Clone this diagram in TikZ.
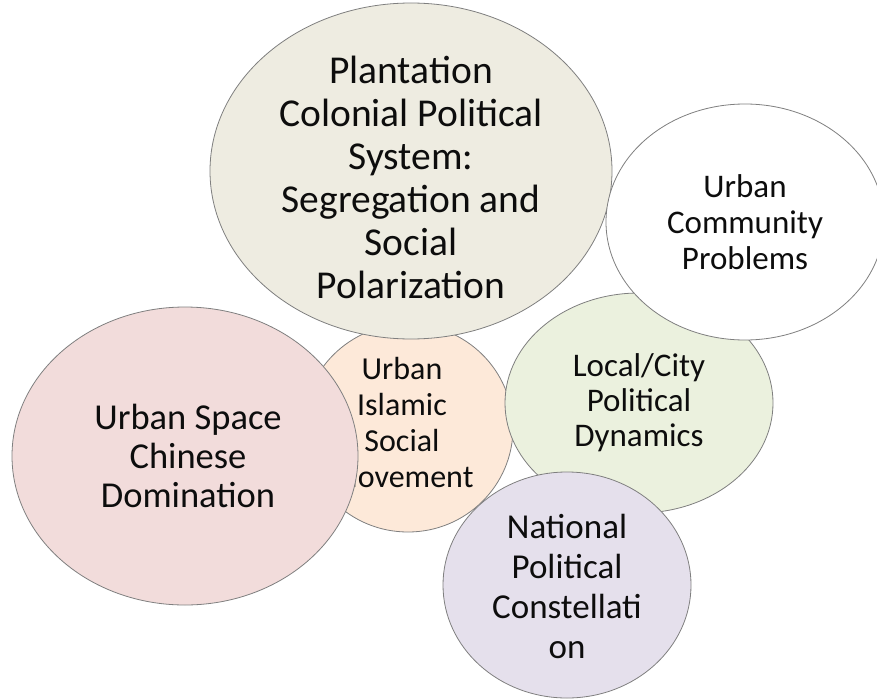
\documentclass[tikz,border=0pt]{standalone}
\usepackage{fontspec}
\setmainfont{Carlito}
\usetikzlibrary{shapes.geometric}
\definecolor{plantgray}{HTML}{EEECE1}
\definecolor{chinapink}{HTML}{F2DCDB}
\definecolor{islampeach}{HTML}{FDE9D9}
\definecolor{localgreen}{HTML}{EBF1DE}
\definecolor{nationlilac}{HTML}{E5E0EC}
\definecolor{rimgray}{HTML}{7F7F7F}

\begin{document}
\begin{tikzpicture}
[x=1pt,y=-1pt,%
  bubbledecorate/.style={shape=ellipse,draw=rimgray,line width=0.8pt,inner sep=0pt},%
  textdecorate/.style={align=center,inner sep=0pt,text=black!95}]
\useasboundingbox (0,0) rectangle (877,698);
%% bubbles, back to front
\foreach \nodename/\x/\y/\w/\h/\col/\fs/\lead/\dx/\dy/\txt in {
  islamic/408/428/210/208/islampeach/32/36/-6/-5/{Urban\\Islamic\\Social\\Movement},
  local/639/403/268/220/localgreen/33/35/0/0/{Local/City\\Political\\Dynamics},
  plantation/411/171/402/336/plantgray/39.5/43/0/6/{Plantation\\Colonial Political\\System:\\Segregation and\\Social\\Polarization},
  community/745/222/278/236/white/33/36/0/0/{Urban\\Community\\Problems},
  chinese/185/456/346/298/chinapink/36.5/39/3/0/{Urban Space\\Chinese\\Domination},
  national/567/585/248/226/nationlilac/35/40/0/1/{National\\Political\\Constellati\\on}} {
  \node (\nodename) at (\x,\y) [bubbledecorate,fill=\col,minimum width=\w pt,minimum height=\h pt] {};
  \node (\nodename-text) at ([xshift=\dx pt,yshift=-\dy pt]\nodename.center) [textdecorate,font=\fontsize{\fs}{\lead}\selectfont] {\txt};
}
\end{tikzpicture}
\end{document}
